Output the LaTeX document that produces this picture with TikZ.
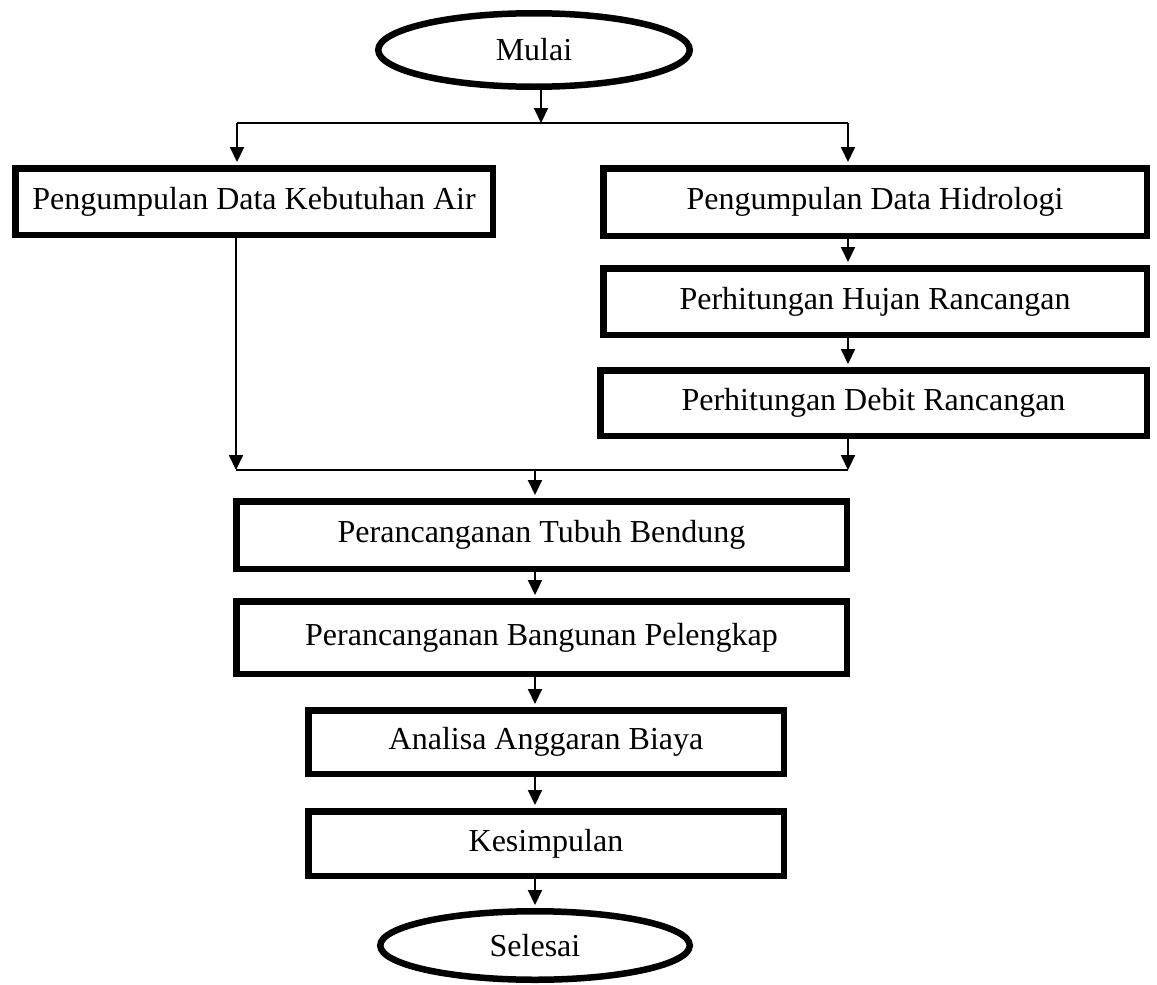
\documentclass[tikz,border=0pt]{standalone}
\usepackage{fontspec}
\setmainfont{Liberation Serif}
\usetikzlibrary{arrows.meta,shapes.geometric}
\tikzset{
  box/.style={draw, line width=6.5pt, rectangle, inner sep=0pt, align=center,
    font=\fontsize{32}{36}\selectfont},
  term/.style={draw, line width=6.5pt, ellipse, inner sep=0pt,
    font=\fontsize{32}{36}\selectfont},
  conn/.style={line width=2pt},
  arr/.style={line width=2pt, -{Triangle[length=15pt,width=14pt]}, shorten >=3pt},
  arrl/.style={line width=2pt, -{Triangle[length=15pt,width=14pt]}}
}
\begin{document}
\begin{tikzpicture}[x=1pt,y=-1pt]
\useasboundingbox (0,0) rectangle (1157,985);
% terminals
\node[term, minimum width=311.5pt, minimum height=73.5pt] (mulai) at (534,50) {Mulai};
\node[term, minimum width=309.5pt, minimum height=68.5pt] (selesai) at (535,945.5) {Selesai};
% boxes
\node[box, minimum width=477.5pt, minimum height=66.5pt] (A) at (254,201.5) {Pengumpulan Data Kebutuhan Air};
\node[box, minimum width=543.5pt, minimum height=67.5pt] (B) at (875,202) {Pengumpulan Data Hidrologi};
\node[box, minimum width=543.5pt, minimum height=66.5pt] (C) at (875,301.5) {Perhitungan Hujan Rancangan};
\node[box, minimum width=546.5pt, minimum height=65.5pt] (D) at (873.5,403) {Perhitungan Debit Rancangan};
\node[box, minimum width=610.5pt, minimum height=67.5pt] (E) at (541.5,535) {Perancanganan Tubuh Bendung};
\node[box, minimum width=610.5pt, minimum height=72.5pt] (F) at (541.5,637.5) {Perancanganan Bangunan Pelengkap};
\node[box, minimum width=475.5pt, minimum height=63.5pt] (G) at (546,742) {Analisa Anggaran Biaya};
\node[box, minimum width=475.5pt, minimum height=64.5pt] (H) at (546,843.5) {Kesimpulan};
% junction points
\coordinate (s0) at (541,123);
\coordinate (sl) at (237,123);
\coordinate (sr) at (848,123);
\coordinate (ml) at (236,470);
\coordinate (mr) at (848,470);
\coordinate (mc) at (535,470);
% split
\draw[arrl] (s0 |- mulai.south) -- (s0);
\draw[conn] (sl) -- (sr);
\draw[arr] (sl) -- (sl |- A.north);
\draw[arr] (sr) -- (sr |- B.north);
\draw[arr] (sr |- B.south) -- (sr |- C.north);
\draw[arr] (sr |- C.south) -- (sr |- D.north);
% merge
\draw[arrl] (ml |- A.south) -- (ml);
\draw[arrl] (mr |- D.south) -- (mr);
\draw[conn] (ml) -- (mr);
\draw[arr] (mc) -- (mc |- E.north);
\draw[arr] (mc |- E.south) -- (mc |- F.north);
\draw[arr] (mc |- F.south) -- (mc |- G.north);
\draw[arr] (mc |- G.south) -- (mc |- H.north);
\draw[arr] (mc |- H.south) -- (mc |- selesai.north);
\end{tikzpicture}
\end{document}
